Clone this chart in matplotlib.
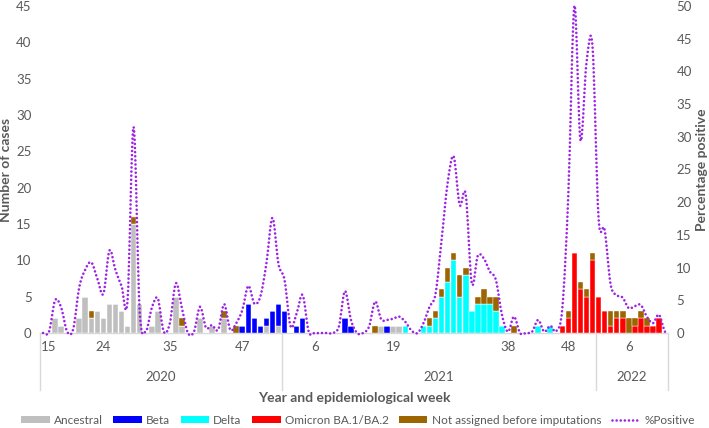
import numpy as np
import matplotlib
matplotlib.use("Agg")
import matplotlib.pyplot as plt
from matplotlib.path import Path
from matplotlib.patches import PathPatch, Patch
from matplotlib.lines import Line2D
import matplotlib.transforms as mtrans

plt.rcParams["font.family"] = ["Lato", "DejaVu Sans"]

# ---------------- data ----------------
year_groups = ["2020", "2021", "2022"]
year_weeks = [list(range(14, 54)), list(range(1, 53)), list(range(1, 13))]

ancestral = [0, 0, 2, 1, 0, 0, 2, 5, 2, 3, 2, 4, 4, 3, 1, 15, 4, 0, 1, 3,
             0, 0, 5, 1, 0, 0, 2, 0, 1, 0, 2, 0, 0, 0, 0, 0, 0, 1, 0, 1,
             0, 0, 0, 0, 0, 0, 0, 0, 0, 0, 0, 0, 0, 0, 0, 0, 1, 0, 1, 1,
             0, 0, 0, 0, 0, 0, 0, 0, 0, 0, 0, 0, 0, 0, 0, 0, 0, 0, 0, 0,
             0, 0, 0, 0, 0, 0, 0, 0, 0, 0, 0, 0, 0, 0, 0, 0, 0, 0, 0, 0,
             0, 0, 0, 0]
beta = [0, 0, 0, 0, 0, 0, 0, 0, 0, 0, 0, 0, 0, 0, 0, 0, 0, 0, 0, 0,
        0, 0, 0, 0, 0, 0, 0, 0, 0, 0, 0, 0, 0, 1, 4, 2, 1, 1, 3, 3,
        3, 0, 1, 2, 0, 0, 0, 0, 0, 0, 2, 1, 0, 0, 0, 0, 0, 1, 0, 0,
        0, 0, 0, 0, 0, 0, 0, 0, 0, 0, 0, 0, 0, 0, 0, 0, 0, 0, 0, 0,
        0, 0, 0, 0, 0, 0, 0, 0, 0, 0, 0, 0, 0, 0, 0, 0, 0, 0, 0, 0,
        0, 0, 0, 0]
delta = [0, 0, 0, 0, 0, 0, 0, 0, 0, 0, 0, 0, 0, 0, 0, 0, 0, 0, 0, 0,
         0, 0, 0, 0, 0, 0, 0, 0, 0, 0, 0, 0, 0, 0, 0, 0, 0, 0, 0, 0,
         0, 0, 0, 0, 0, 0, 0, 0, 0, 0, 0, 0, 0, 0, 0, 0, 0, 0, 0, 0,
         1, 0, 0, 1, 1, 2, 5, 7, 10, 5, 8, 3, 4, 4, 4, 3, 1, 0, 0, 0,
         0, 0, 1, 0, 1, 0, 0, 0, 0, 0, 0, 0, 0, 0, 0, 0, 0, 0, 0, 0,
         0, 0, 0, 0]
omicron = [0, 0, 0, 0, 0, 0, 0, 0, 0, 0, 0, 0, 0, 0, 0, 0, 0, 0, 0, 0,
           0, 0, 0, 0, 0, 0, 0, 0, 0, 0, 0, 0, 0, 0, 0, 0, 0, 0, 0, 0,
           0, 0, 0, 0, 0, 0, 0, 0, 0, 0, 0, 0, 0, 0, 0, 0, 0, 0, 0, 0,
           0, 0, 0, 0, 0, 0, 0, 0, 0, 0, 0, 0, 0, 0, 0, 0, 0, 0, 0, 0,
           0, 0, 0, 0, 0, 0, 1, 2, 11, 6, 5, 10, 5, 3, 1, 2, 2, 0, 1, 2,
           1, 1, 2, 0]
not_assigned = [0, 0, 0, 0, 0, 0, 0, 0, 1, 0, 0, 0, 0, 0, 0, 1, 0, 0, 0, 0,
                0, 0, 0, 1, 0, 0, 0, 0, 0, 0, 1, 0, 1, 0, 0, 0, 0, 0, 0, 0,
                0, 0, 0, 0, 0, 0, 0, 0, 0, 0, 0, 0, 0, 0, 0, 1, 0, 0, 0, 0,
                0, 0, 0, 0, 1, 1, 1, 2, 1, 3, 1, 0, 1, 2, 1, 2, 0, 0, 1, 0,
                0, 0, 0, 0, 0, 0, 0, 1, 0, 1, 1, 1, 0, 0, 2, 1, 1, 2, 1, 1,
                1, 0, 0, 0]
pct_positive = [0, 0.2, 5.0, 3.9, 0.2, 0.6, 7.0, 9.7, 10.8, 8.3,
                6.0, 12.6, 9.6, 7.2, 5.0, 31.5, 3.5, 0.2, 3.8, 5.3,
                0.2, 1.5, 7.6, 3.8, 0, 0.2, 4.0, 0.8, 1.2, 0.5,
                4.4, 0.5, 1.5, 3.5, 7.2, 4.5, 5.6, 10.7, 17.6, 10.5,
                8.1, 1.0, 3.0, 5.8, 0.2, 0, 0, 0, 0, 1.0,
                6.4, 2.0, 0, 0, 1.0, 4.8, 2.1, 2.0, 2.2, 2.5,
                1.7, 0.4, 0, 1.5, 4.0, 6.0, 14.2, 22.9, 27.0, 19.6,
                21.2, 7.6, 11.8, 11.4, 9.4, 8.1, 2.8, 0.2, 2.5, 0,
                0, 0.2, 2.0, 0.2, 1.1, 0.3, 3.8, 21.4, 50.0, 29.5,
                41.3, 43.8, 17.6, 15.8, 7.4, 5.8, 5.4, 3.8, 4.1, 4.3,
                2.5, 1.5, 2.8, 0.2]

shown_week_labels = [("2020", 15), ("2020", 24), ("2020", 35), ("2020", 47),
                     ("2021", 6), ("2021", 19), ("2021", 38), ("2021", 48),
                     ("2022", 6)]

series_names = ["Ancestral", "Beta", "Delta", "Omicron BA.1/BA.2",
                "Not assigned before imputations"]
series_colors = ["#BFBFBF", "#0000FF", "#00FFFF", "#FF0000", "#9C6500"]
line_color = "#9B22E6"
txt_color = "#595959"
axis_color = "#D9D9D9"

# ---------------- figure ----------------
cats = [(y, w) for y, ws in zip(year_groups, year_weeks) for w in ws]
n = len(cats)
x = np.arange(n)

fig = plt.figure(figsize=(7.09, 4.28), dpi=100)
ax = fig.add_axes([40 / 709, 95 / 428, 628 / 709, 327 / 428])
ax2 = ax.twinx()

bottom = np.zeros(n)
for name, vals, col in zip(series_names,
                           [ancestral, beta, delta, omicron, not_assigned],
                           series_colors):
    v = np.array(vals, dtype=float)
    ax.bar(x, v, width=0.93, bottom=bottom, color=col, edgecolor="white",
           linewidth=0.3, zorder=2)
    bottom += v

ax.set_xlim(-0.5, n - 0.5)
ax.set_ylim(0, 45)
ax.set_yticks(np.arange(0, 46, 5))
ax2.set_ylim(0, 50)
ax2.set_yticks(np.arange(0, 51, 5))

# smoothed %positive line (Excel-style smoothing through the data points)
y = np.array(pct_positive, dtype=float)
verts = [(x[0], y[0])]
codes = [Path.MOVETO]
for i in range(n - 1):
    ym = y[i - 1] if i > 0 else y[i]
    yp = y[i + 2] if i + 2 < n else y[i + 1]
    verts += [(x[i] + 1 / 3, y[i] + (y[i + 1] - ym) / 6),
              (x[i + 1] - 1 / 3, y[i + 1] - (yp - y[i]) / 6),
              (x[i + 1], y[i + 1])]
    codes += [Path.CURVE4] * 3
ax2.add_patch(PathPatch(Path(verts, codes), fill=False, edgecolor=line_color,
                        linewidth=1.9, linestyle=(0, (0.01, 1.55)),
                        capstyle="round", zorder=3, clip_on=False))

for a in (ax, ax2):
    for s in a.spines.values():
        s.set_visible(False)
    a.tick_params(axis="y", length=0, labelsize=9.5, colors=txt_color, pad=6)

# category axis
ax.axhline(0, color=axis_color, lw=1, zorder=1, clip_on=False)
tick_pos = [cats.index(c) for c in shown_week_labels]
ax.set_xticks(tick_pos)
ax.set_xticklabels([str(w) for _, w in shown_week_labels])
ax.tick_params(axis="x", length=0, labelsize=9.5, colors=txt_color, pad=6)

trans = mtrans.blended_transform_factory(ax.transData, ax.transAxes)
start = 0
bounds = [-0.5]
for yname, ws in zip(year_groups, year_weeks):
    end = start + len(ws)
    ax.text((start + end - 1) / 2, -0.135, yname, transform=trans,
            ha="center", va="center", fontsize=9.5, color=txt_color)
    bounds.append(end - 0.5)
    start = end
for b in bounds:
    ax.add_line(Line2D([b, b], [0, -0.175], transform=trans,
                       color=axis_color, lw=1, clip_on=False))

ax.set_ylabel("Number of cases", fontsize=10, fontweight="bold",
              color=txt_color, labelpad=3)
ax2.set_ylabel("Percentage positive", fontsize=10, fontweight="bold",
               color=txt_color, labelpad=3)
fig.text(ax.get_position().x0 + ax.get_position().width / 2, 1 - 398 / 428,
         "Year and epidemiological week", ha="center", va="center",
         fontsize=10, fontweight="bold", color=txt_color)

handles = [Patch(facecolor=c, edgecolor="none") for c in series_colors]
handles.append(Line2D([0], [0], color=line_color, lw=1.9,
                      linestyle=(0, (0.01, 1.55)), dash_capstyle="round"))
labels = series_names + ["%Positive"]
fig.legend(handles, labels, loc="center", bbox_to_anchor=(0.505, 1 - 420 / 428),
           ncol=6, frameon=False, fontsize=8.5, labelcolor=txt_color,
           handlelength=2.4, handleheight=0.6, columnspacing=0.9,
           handletextpad=0.35, borderaxespad=0, borderpad=0)

fig.savefig("out.png", dpi=100)
